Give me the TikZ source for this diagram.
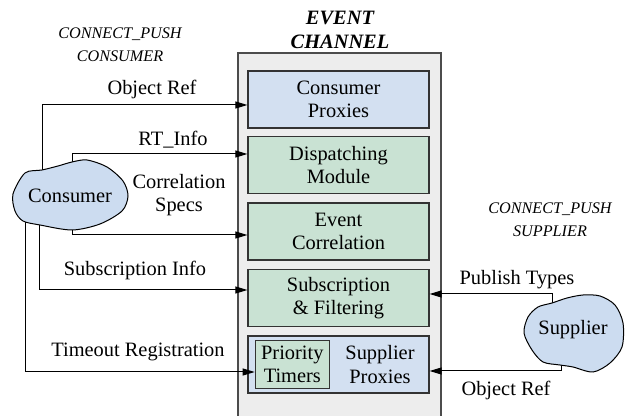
\documentclass[tikz,border=0pt]{standalone}
\usepackage{fontspec}
\setmainfont{Liberation Serif}
\usetikzlibrary{arrows.meta,calc}

\definecolor{proxyblue}{HTML}{D3E0F1}
\definecolor{modgreen}{HTML}{C9E2D3}
\definecolor{cloudblue}{HTML}{CCDCF0}
\definecolor{changray}{HTML}{EDEDED}

\pgfdeclarelayer{front}
\pgfsetlayers{main,front}

\begin{document}
\begin{tikzpicture}[x=0.5pt,y=-0.5pt,>={Triangle[length=6pt,width=3.5pt]},
  font=\fontsize{10.2}{11.7}\selectfont,
  mod box/.style={draw=black!80,line width=0.6pt,minimum width=90.5pt,minimum height=28.5pt,
    align=center,inner sep=0pt},
  chan box/.style={draw=black!70,fill=changray,line width=0.6pt,minimum width=101.5pt,minimum height=186pt},
  blob/.style={draw=black,fill=cloudblue,line width=0.5pt},
  conn/.style={->,draw=black,line width=0.5pt},
  role/.style={font=\fontsize{8.1}{11.5}\selectfont\itshape,align=center},
  lbl/.style={align=center,inner sep=0pt}]
  \useasboundingbox (0,0) rectangle (626,416);

  % event channel and its modules
  \node[chan box] (channel) at (339.5,239) {};
  \node[font=\fontsize{10.2}{12}\selectfont\bfseries\itshape,align=center] (title) at (340,29.5) {EVENT\\CHANNEL};
  \node[mod box,fill=proxyblue] (cproxy) at (338.5,99.5) {Consumer\\Proxies};
  \node[mod box,fill=modgreen] (dispatch) at (338.5,165) {Dispatching\\Module};
  \node[mod box,fill=modgreen] (evcorr) at (338.5,231.5) {Event\\Correlation};
  \node[mod box,fill=modgreen] (subfilt) at (338.5,298) {Subscription\\\& Filtering};
  \node[mod box,fill=proxyblue] (sproxy) at (338.5,364.5) {};
  \node[lbl] (sptext) at (380,364.5) {Supplier\\Proxies};
  \node[draw=black!80,fill=modgreen,line width=0.6pt,minimum width=37pt,minimum height=24pt,
    align=center,inner sep=0pt] (timers) at (292.3,364.5) {Priority\\Timers};

  % consumer and supplier
  \begin{pgfonlayer}{front}
  \draw[blob,shift={(70,196)}] plot[smooth cycle] coordinates {(-57,-2) (-45,-23) (-28,-26)
    (-12,-30) (2,-34) (17,-36) (37,-29) (53,-15) (58,0) (52,15) (30,28) (2,34) (-30,29) (-47,25) (-55,15)};
  \node (consumer) at (70,196) {Consumer};
  \draw[blob,shift={(573,332)}] plot[smooth cycle] coordinates {(-21,-29) (-6,-34) (10,-37) (27,-36)
    (42,-27) (50,-9) (49,15) (37,31) (20,40) (0,35) (-13,33) (-30,30) (-41,18) (-49,1) (-45,-15) (-35,-25)};
  \node (supplier) at (573,330) {Supplier};
  \end{pgfonlayer}

  \node[role] (pushcons) at (120,44.5) {CONNECT\_PUSH\\CONSUMER};
  \node[role] (pushsupp) at (550,219.5) {CONNECT\_PUSH\\SUPPLIER};

  % connections
  \draw[conn] ($(consumer)+(-28,0)$) |- ($(cproxy.west)+(0,5.5)$);
  \draw[conn] ($(consumer)+(2,0)$) |- ($(dispatch.west)+(0,-11)$);
  \draw[conn] ($(consumer)+(2,0)$) |- ($(evcorr.west)+(0,3.5)$);
  \draw[conn] ($(consumer)+(-31,0)$) |- ($(subfilt.west)+(0,-8)$);
  \draw[conn] ($(consumer)+(-45,0)$) |- ($(timers.west)+(0,7.5)$);
  \draw[conn] ($(supplier)+(-21,0)$) |- ($(subfilt.east)+(0,-4)$);
  \draw[conn] ($(supplier)+(-12,0)$) |- ($(sproxy.east)+(0,6.5)$);

  \node[lbl] (objref) at (152,89) {Object Ref};
  \node[lbl] (rtinfo) at (173,140) {RT\_Info};
  \node[lbl] (corrspec) at (179,195) {Correlation\\Specs};
  \node[lbl] (subinfo) at (135,270) {Subscription Info};
  \node[lbl] (timeout) at (138,352) {Timeout Registration};
  \node[lbl] (pubtypes) at (517,280) {Publish Types};
  \node[lbl] (supref) at (506,390) {Object Ref};
\end{tikzpicture}
\end{document}
